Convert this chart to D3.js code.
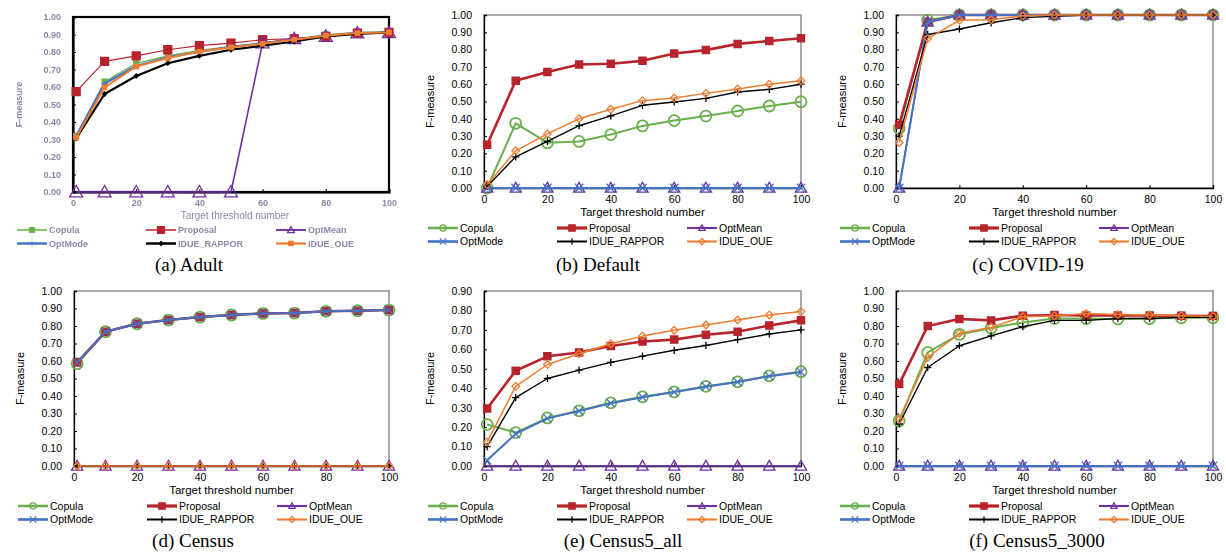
<!DOCTYPE html>
<html>
<head>
<meta charset="utf-8">
<script src="https://cdn.jsdelivr.net/npm/d3@7"></script>
<style>
  body { margin: 0; background: #fff; }
  svg { display: block; font-family: "Liberation Sans", Arial, sans-serif; }
</style>
</head>
<body>
<div id="chart"></div>
<script>
// x values and series
var thresholds = [1, 10, 20, 30, 40, 50, 60, 70, 80, 90, 100];
var seriesNames = ["Copula", "Proposal", "OptMean", "OptMode", "IDUE_RAPPOR", "IDUE_OUE"];
var seriesColors = ["#6ab04c", "#b8242c", "#7030a0", "#4472c4", "#000000", "#ed7d31"];
var seriesMarkers = ["circle", "square", "triangle", "x", "plus", "diamond"];
var xTicks = [0, 20, 40, 60, 80, 100];

// values per dataset, one row per series (same order as seriesNames)
var adultValues = [
  [0.32, 0.63, 0.735, 0.778, 0.809, 0.832, 0.851, 0.874, 0.899, 0.912, 0.914],
  [0.574, 0.746, 0.778, 0.813, 0.836, 0.851, 0.87, 0.876, 0.889, 0.908, 0.912],
  [0, 0, 0, 0, 0, 0, 0.851, 0.876, 0.889, 0.908, 0.91],
  [0.32, 0.62, 0.72, 0.77, 0.80, 0.83, 0.85, 0.87, 0.89, 0.91, 0.91],
  [0.306, 0.56, 0.663, 0.736, 0.778, 0.813, 0.836, 0.86, 0.889, 0.904, 0.912],
  [0.31, 0.598, 0.717, 0.765, 0.803, 0.826, 0.847, 0.87, 0.893, 0.908, 0.912]
];
var defaultValues = [
  [0.0, 0.374, 0.262, 0.269, 0.309, 0.359, 0.39, 0.416, 0.445, 0.474, 0.499],
  [0.25, 0.62, 0.67, 0.714, 0.718, 0.735, 0.777, 0.797, 0.833, 0.85, 0.866],
  [0, 0, 0, 0, 0, 0, 0, 0, 0, 0, 0],
  [0, 0, 0, 0, 0, 0, 0, 0, 0, 0, 0],
  [0.01, 0.18, 0.27, 0.36, 0.417, 0.478, 0.497, 0.518, 0.555, 0.57, 0.60],
  [0.02, 0.215, 0.313, 0.40, 0.455, 0.505, 0.52, 0.547, 0.572, 0.60, 0.62]
];
var covidValues = [
  [0.345, 0.97, 1, 1, 1, 1, 1, 1, 1, 1, 1],
  [0.365, 0.96, 1, 1, 1, 1, 1, 1, 1, 1, 1],
  [0.0, 0.96, 1, 1, 1, 1, 1, 1, 1, 1, 1],
  [0.0, 0.96, 1, 1, 1, 1, 1, 1, 1, 1, 1],
  [0.30, 0.887, 0.919, 0.955, 0.985, 0.992, 1, 1, 1, 1, 1],
  [0.263, 0.864, 0.969, 0.972, 0.995, 1, 1, 1, 1, 1, 1]
];
var censusValues = [
  [0.585, 0.767, 0.813, 0.834, 0.851, 0.863, 0.872, 0.874, 0.884, 0.887, 0.891],
  [0.592, 0.767, 0.813, 0.834, 0.851, 0.863, 0.872, 0.874, 0.884, 0.887, 0.891],
  [0, 0, 0, 0, 0, 0, 0, 0, 0, 0, 0],
  [0.592, 0.767, 0.813, 0.834, 0.851, 0.863, 0.872, 0.874, 0.884, 0.887, 0.891],
  [0, 0, 0, 0, 0, 0, 0, 0, 0, 0, 0],
  [0, 0, 0, 0, 0, 0, 0, 0, 0, 0, 0]
];
var census5AllValues = [
  [0.213, 0.172, 0.247, 0.284, 0.325, 0.356, 0.381, 0.41, 0.433, 0.464, 0.485],
  [0.296, 0.49, 0.564, 0.584, 0.617, 0.64, 0.65, 0.675, 0.69, 0.723, 0.749],
  [0, 0, 0, 0, 0, 0, 0, 0, 0, 0, 0],
  [0.03, 0.165, 0.245, 0.283, 0.323, 0.354, 0.38, 0.408, 0.432, 0.462, 0.483],
  [0.10, 0.352, 0.45, 0.493, 0.533, 0.565, 0.595, 0.62, 0.65, 0.679, 0.70],
  [0.124, 0.41, 0.522, 0.577, 0.629, 0.668, 0.698, 0.725, 0.751, 0.777, 0.794]
];
var census5_3000Values = [
  [0.258, 0.649, 0.752, 0.788, 0.82, 0.843, 0.843, 0.84, 0.843, 0.847, 0.847],
  [0.468, 0.80, 0.84, 0.832, 0.859, 0.863, 0.86, 0.86, 0.86, 0.858, 0.857],
  [0, 0, 0, 0, 0, 0, 0, 0, 0, 0, 0],
  [0, 0, 0, 0, 0, 0, 0, 0, 0, 0, 0],
  [0.24, 0.563, 0.687, 0.744, 0.796, 0.832, 0.832, 0.843, 0.843, 0.849, 0.85],
  [0.267, 0.62, 0.758, 0.792, 0.853, 0.859, 0.872, 0.866, 0.863, 0.859, 0.855]
];

// panel layout
var panels = [
  {caption: "(a) Adult", values: adultValues, yMax: 1.0, left: 73, right: 389, top: 17, bottom: 192, capX: 189, capY: 271, adult: true},
  {caption: "(b) Default", values: defaultValues, yMax: 1.0, left: 484, right: 801, top: 15, bottom: 188, capX: 598, capY: 271},
  {caption: "(c) COVID-19", values: covidValues, yMax: 1.0, left: 896, right: 1213, top: 15, bottom: 188, capX: 1028, capY: 271},
  {caption: "(d) Census", values: censusValues, yMax: 1.0, left: 74, right: 389, top: 291, bottom: 466, capX: 193, capY: 547},
  {caption: "(e) Census5_all", values: census5AllValues, yMax: 0.9, left: 484, right: 801, top: 291, bottom: 466, capX: 623, capY: 547},
  {caption: "(f) Census5_3000", values: census5_3000Values, yMax: 1.0, left: 896, right: 1213, top: 291, bottom: 466, capX: 1037, capY: 547}
];

var W = 1226, H = 553;
var svg = d3.select("#chart").append("svg")
  .attr("width", W)
  .attr("height", H);

svg.append("defs").append("filter")
  .attr("id", "soft")
  .append("feGaussianBlur")
  .attr("stdDeviation", 0.45);

// marker shapes
function markerPath(type, s) {
  if (type == "circle") return d3.symbol(d3.symbolCircle, Math.PI * s * s)();
  if (type == "square") return "M" + (-s) + "," + (-s) + "h" + 2 * s + "v" + 2 * s + "h" + (-2 * s) + "Z";
  if (type == "triangle") return "M0," + (-s) + "L" + s + "," + (s * 0.75) + "L" + (-s) + "," + (s * 0.75) + "Z";
  if (type == "x") return "M" + (-s) + "," + (-s) + "L" + s + "," + s + "M" + (-s) + "," + s + "L" + s + "," + (-s);
  if (type == "plus") return "M" + (-s) + ",0L" + s + ",0M0," + (-s) + "L0," + s;
  if (type == "diamond") return "M0," + (-s) + "L" + s + ",0L0," + s + "L" + (-s) + ",0Z";
}

// normal style
var markSize = [5.5, 3.6, 5.6, 4.2, 3.6, 3.8];
var lineWidth = [2, 2.6, 1.5, 2, 1.4, 1.5];
// adult (blurry image) style
var adultMarkers = ["square", "square", "triangle", "plus", "diamond", "square"];
var adultSize = [2.5, 4, 6.5, 2, 2, 2.2];
var adultLine = [1.2, 1.2, 1.6, 2.2, 2.2, 2];

function markerFill(i, adult) {
  if (adult) return (i == 2) ? "none" : seriesColors[i];
  if (seriesMarkers[i] == "square") return seriesColors[i];
  return "none";
}

panels.forEach(function(p) {
  var g = svg.append("g");
  if (p.adult) g.attr("filter", "url(#soft)");

  var x = d3.scaleLinear().domain([0, 100]).range([p.left, p.right]);
  var y = d3.scaleLinear().domain([0, p.yMax]).range([p.bottom, p.top]);
  var yTicks = d3.range(0, p.yMax + 0.001, 0.1);
  var labelColor = p.adult ? "#8a8aa8" : "#000";

  // plot frame
  g.append("rect")
    .attr("x", p.left).attr("y", p.top)
    .attr("width", p.right - p.left).attr("height", p.bottom - p.top)
    .attr("fill", "none")
    .attr("stroke", p.adult ? "#000" : "#7f7f7f")
    .attr("stroke-width", p.adult ? 2.2 : 1.3);

  // y axis
  var yAxis = g.append("g")
    .attr("transform", "translate(" + p.left + ",0)")
    .call(d3.axisLeft(y).tickValues(yTicks).tickFormat(d3.format(".2f")).tickSize(-3).tickPadding(12));
  yAxis.select(".domain").attr("stroke", "#000").attr("stroke-width", p.adult ? 2.2 : 1.3);
  yAxis.selectAll("text")
    .attr("font-size", p.adult ? 9 : 10.5)
    .attr("font-family", "'Liberation Sans', Arial, sans-serif")
    .attr("font-weight", p.adult ? "bold" : "normal")
    .attr("fill", labelColor);

  // x axis
  var xAxis = g.append("g")
    .attr("transform", "translate(0," + p.bottom + ")")
    .call(d3.axisBottom(x).tickValues(xTicks).tickSize(-3).tickPadding(8));
  xAxis.select(".domain").attr("stroke", "#000").attr("stroke-width", p.adult ? 2.2 : 1.3);
  xAxis.selectAll("text")
    .attr("font-size", p.adult ? 9 : 10.5)
    .attr("font-family", "'Liberation Sans', Arial, sans-serif")
    .attr("font-weight", p.adult ? "bold" : "normal")
    .attr("fill", labelColor);

  // axis titles
  g.append("text")
    .attr("x", (p.left + p.right) / 2 + (p.adult ? 4 : 0))
    .attr("y", p.bottom + (p.adult ? 27 : 28))
    .attr("text-anchor", "middle")
    .attr("font-size", p.adult ? 10 : 11.5)
    .attr("fill", labelColor)
    .text("Target threshold number");
  g.append("text")
    .attr("transform", "translate(" + (p.left - 54) + "," + ((p.top + p.bottom) / 2) + ") rotate(-90)")
    .attr("text-anchor", "middle")
    .attr("dy", "0.35em")
    .attr("font-size", p.adult ? 9 : 11)
    .attr("font-weight", p.adult ? "bold" : "normal")
    .attr("fill", labelColor)
    .text("F-measure");

  // series lines and markers
  var line = d3.line()
    .x(function(d, i) { return x(thresholds[i]); })
    .y(function(d) { return y(d); });

  p.values.forEach(function(vals, i) {
    var type = p.adult ? adultMarkers[i] : seriesMarkers[i];
    var size = p.adult ? adultSize[i] : markSize[i];
    g.append("path")
      .attr("d", line(vals))
      .attr("fill", "none")
      .attr("stroke", seriesColors[i])
      .attr("stroke-width", p.adult ? adultLine[i] : lineWidth[i])
      .attr("stroke-linejoin", "round");
    g.selectAll(null)
      .data(vals)
      .enter()
      .append("path")
      .attr("transform", function(d, k) { return "translate(" + x(thresholds[k]) + "," + y(d) + ")"; })
      .attr("d", markerPath(type, size))
      .attr("fill", markerFill(i, p.adult))
      .attr("stroke", seriesColors[i])
      .attr("stroke-width", (type == "circle") ? 1.8 : 1.3);
  });

  // legend, 3 columns x 2 rows
  var legY = p.bottom + (p.adult ? 38 : 40);
  var colX = [p.left - 56, p.left + 73, p.left + 203];
  seriesNames.forEach(function(name, i) {
    var lx = colX[i % 3];
    var ly = legY + Math.floor(i / 3) * 13.5;
    var type = p.adult ? adultMarkers[i] : seriesMarkers[i];
    var lg = g.append("g").attr("transform", "translate(" + lx + "," + ly + ")");
    lg.append("line")
      .attr("x1", 0).attr("x2", 30)
      .attr("stroke", seriesColors[i])
      .attr("stroke-width", p.adult ? adultLine[i] + 0.3 : lineWidth[i] + 0.6);
    lg.append("path")
      .attr("transform", "translate(15,0)")
      .attr("d", markerPath(type, p.adult ? Math.min(3.5, adultSize[i]) : 3.2))
      .attr("fill", markerFill(i, p.adult))
      .attr("stroke", seriesColors[i])
      .attr("stroke-width", 1.2);
    lg.append("text")
      .attr("x", 32)
      .attr("dy", "0.35em")
      .attr("font-size", p.adult ? 9 : 10.5)
      .attr("font-weight", p.adult ? "bold" : "normal")
      .attr("fill", labelColor)
      .text(name);
  });

  // caption
  svg.append("text")
    .attr("x", p.capX)
    .attr("y", p.capY)
    .attr("text-anchor", "middle")
    .attr("font-family", "'Liberation Serif', 'Times New Roman', serif")
    .attr("font-size", 19)
    .attr("fill", "#000")
    .text(p.caption);
});
</script>
</body>
</html>
